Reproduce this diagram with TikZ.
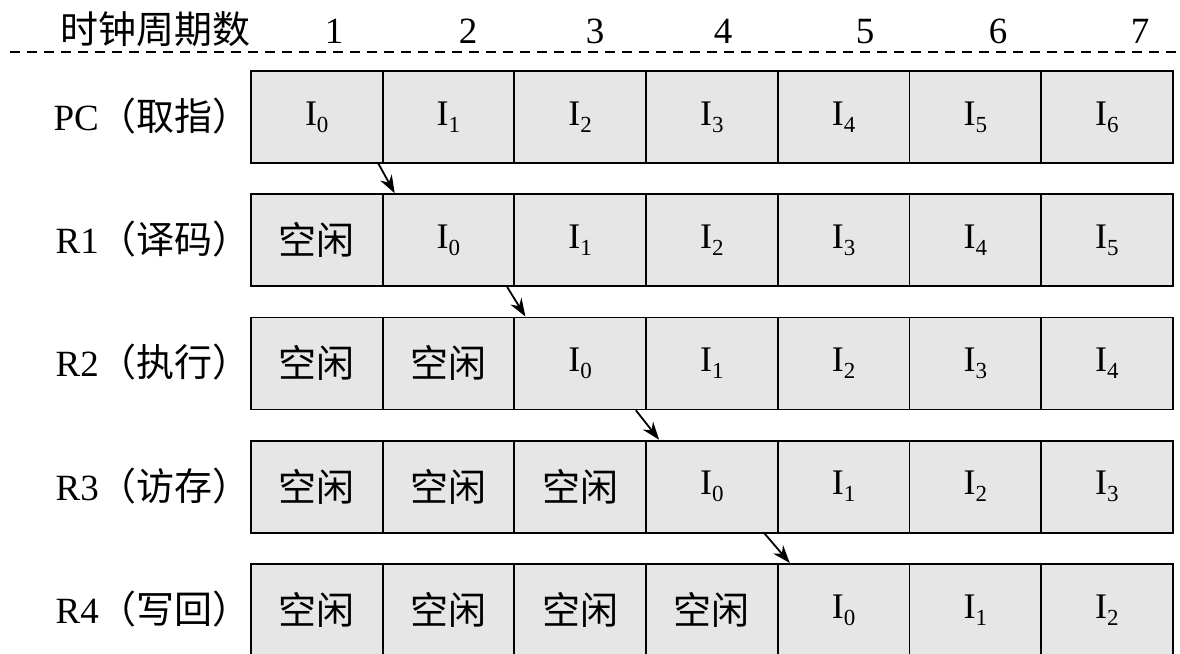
\documentclass[tikz,border=0pt]{standalone}
\usepackage{fontspec}
\setmainfont{Liberation Serif}
\newfontfamily\cjk{Noto Sans CJK SC}
\usetikzlibrary{arrows.meta,calc}
\definecolor{cellgray}{RGB}{230,230,230}
\newcommand{\Ins}[1]{I\raisebox{-7pt}{\fontsize{23}{23}\selectfont #1}}
\newcommand{\cj}[1]{{\fontsize{38}{38}\selectfont\cjk #1}}
\newcommand{\kx}{\cj{空闲}}
\tikzset{
  cell/.style={draw=black, line width=1.8pt, fill=cellgray, minimum width=131.7pt, minimum height=92pt, inner sep=0pt, anchor=north west, font=\fontsize{36}{36}\selectfont},
  rowlabel/.style={anchor=east, inner sep=0pt, font=\fontsize{37}{37}\selectfont},
  hdr/.style={anchor=base, inner sep=0pt, font=\fontsize{37}{37}\selectfont},
  flow/.style={line width=1.8pt, -{Stealth[length=18pt,width=13pt]}},
}
\begin{document}
\begin{tikzpicture}[x=1pt,y=-1pt]
\useasboundingbox (0,0) rectangle (1180,653);
% header
\node[hdr] (hd) at (155,43) {\cj{时钟周期数}};
\node[hdr] (n1) at (334,43) {1};
\node[hdr] (n2) at (468,43) {2};
\node[hdr] (n3) at (595,43) {3};
\node[hdr] (n4) at (723,43) {4};
\node[hdr] (n5) at (865,43) {5};
\node[hdr] (n6) at (998,43) {6};
\node[hdr] (n7) at (1140,43) {7};
\coordinate (dl) at (10,52);
\coordinate (dr) at (1180,52);
\draw[line width=1.5pt, dash pattern=on 10pt off 7pt] (dl) -- (dr);
% rows
\foreach \r/\lab/\cells in {
  0/{PC\cj{（取指）}}/{\Ins{0},\Ins{1},\Ins{2},\Ins{3},\Ins{4},\Ins{5},\Ins{6}},
  1/{R1\cj{（译码）}}/{\kx,\Ins{0},\Ins{1},\Ins{2},\Ins{3},\Ins{4},\Ins{5}},
  2/{R2\cj{（执行）}}/{\kx,\kx,\Ins{0},\Ins{1},\Ins{2},\Ins{3},\Ins{4}},
  3/{R3\cj{（访存）}}/{\kx,\kx,\kx,\Ins{0},\Ins{1},\Ins{2},\Ins{3}},
  4/{R4\cj{（写回）}}/{\kx,\kx,\kx,\kx,\Ins{0},\Ins{1},\Ins{2}}} {
  \pgfmathsetmacro{\top}{70+\r*123.25}
  \node[rowlabel] (lab\r) at (251,\top+46) {\lab};
  \foreach \t [count=\c] in \cells {
    \node[cell] (c\r-\c) at ({250+(\c-1)*131.7},\top) {\t};
  }
}
% arrows
\draw[flow] ($(c0-1.south east)+(-5,0)$) -- ($(c1-2.north west)+(13,0)$);
\draw[flow] ($(c1-2.south east)+(-8,0)$) -- ($(c2-3.north west)+(12,0)$);
\draw[flow] ($(c2-3.south east)+(-11,0)$) -- ($(c3-4.north west)+(14,0)$);
\draw[flow] ($(c3-4.south east)+(-14,0)$) -- ($(c4-5.north west)+(13,0)$);
\end{tikzpicture}
\end{document}
